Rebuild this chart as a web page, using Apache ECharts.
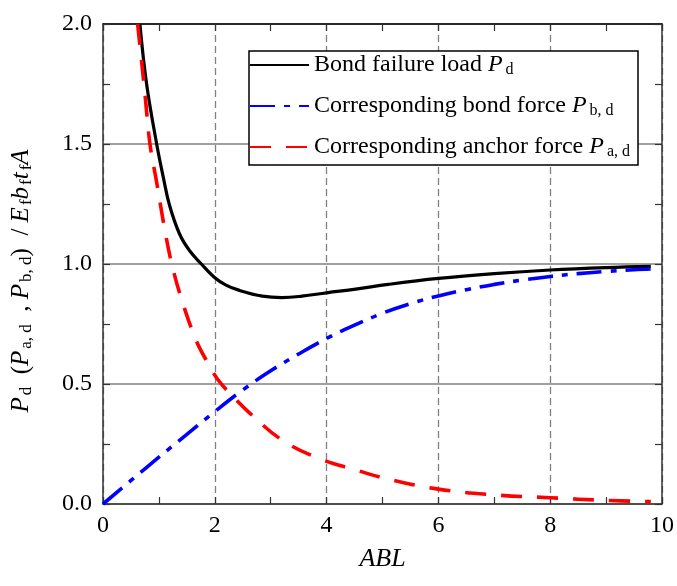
<!DOCTYPE html>
<html>
<head>
<meta charset="utf-8">
<script src="https://cdn.jsdelivr.net/npm/echarts@6/dist/echarts.min.js"></script>
<style>
html,body{margin:0;padding:0;background:#fff;}
#c{width:677px;height:586px;}
</style>
</head>
<body>
<div id="c"></div>
<script>
// Bond failure load Pd
var pdX = [0.66, 0.78, 0.96, 1.08, 1.19, 1.37, 1.55, 1.76, 1.99, 2.2, 2.44, 2.85, 3.2, 3.56, 4.0, 4.52, 5.1, 6.0, 7.0, 8.0, 9.0, 9.8];
var pdY = [2.0, 1.75, 1.5, 1.36, 1.245, 1.125, 1.055, 1.0, 0.945, 0.912, 0.89, 0.866, 0.86, 0.866, 0.88, 0.895, 0.915, 0.94, 0.96, 0.975, 0.985, 0.99];
// Corresponding bond force Pb,d
var pbX = [0, 0.5, 1.0, 1.5, 2.0, 2.5, 3.0, 3.5, 4.0, 4.5, 5.0, 5.5, 6.0, 6.5, 7.0, 7.5, 8.0, 8.5, 9.0, 9.5, 9.8];
var pbY = [0, 0.098, 0.195, 0.29, 0.385, 0.475, 0.555, 0.625, 0.69, 0.745, 0.795, 0.835, 0.867, 0.893, 0.915, 0.933, 0.948, 0.96, 0.969, 0.976, 0.979];
// Corresponding anchor force Pa,d
var paX = [0.62, 0.75, 0.84, 0.96, 1.10, 1.23, 1.41, 1.67, 1.87, 2.05, 2.3, 2.62, 3.2, 3.86, 4.52, 5.1, 6.0, 7.0, 8.0, 9.0, 9.8];
var paY = [2.0, 1.71, 1.5, 1.34, 1.15, 1.0, 0.85, 0.68, 0.59, 0.52, 0.454, 0.38, 0.267, 0.19, 0.142, 0.104, 0.062, 0.038, 0.026, 0.015, 0.01];

var seriesNames = ['Pd', 'Pbd', 'Pad'];
var legendLabels = {
  'Pd': '{n|Bond failure load }{i|P}{s|d}',
  'Pbd': '{n|Corresponding bond force }{i|P}{s|b, d}',
  'Pad': '{n|Corresponding anchor force }{i|P}{s|a, d}'
};
var xTicks = [0, 2, 4, 6, 8, 10];
var yTicks = [0, 0.5, 1.0, 1.5, 2.0];

function zip(xs, ys) { return xs.map(function (x, i) { return [x, ys[i]]; }); }

var FF = '"Liberation Serif", "Times New Roman", serif';
var rich = {
  n: { fontFamily: FF, fontSize: 24, color: '#000', lineHeight: 26 },
  i: { fontFamily: FF, fontSize: 24, fontStyle: 'italic', color: '#000', lineHeight: 26 },
  s: { fontFamily: FF, fontSize: 16, color: '#000', lineHeight: 8, verticalAlign: 'bottom', padding: [0, 0, 0, 3] }
};
var richY = {
  n: { fontFamily: FF, fontSize: 25, color: '#000', lineHeight: 28 },
  i: { fontFamily: FF, fontSize: 25, fontStyle: 'italic', color: '#000', lineHeight: 28 },
  s: { fontFamily: FF, fontSize: 17, color: '#000', lineHeight: 8, verticalAlign: 'bottom', padding: [0, 0, 0, 2] }
};

var axisLineStyle = { color: '#333', width: 1.5 };
var tickStyle = { color: '#333', width: 1.2 };

var chart = echarts.init(document.getElementById('c'), null, { renderer: 'canvas' });
chart.setOption({
  animation: false,
  backgroundColor: '#fff',
  grid: { left: 103, right: 12, top: 24, bottom: 82, containLabel: false },
  legend: {
    data: seriesNames,
    orient: 'vertical',
    left: 249, top: 51,
    itemWidth: 59, itemHeight: 12, itemGap: 16,
    padding: [2, 8, 5, 0],
    borderColor: '#000', borderWidth: 1.5,
    backgroundColor: '#fff',
    itemStyle: { opacity: 0 },
    formatter: function (name) { return legendLabels[name]; },
    textStyle: { fontFamily: FF, fontSize: 24, color: '#000', rich: rich }
  },
  xAxis: [{
    type: 'value', min: 0, max: 10, interval: 2,
    name: 'ABL', nameLocation: 'middle', nameGap: 42,
    nameTextStyle: { fontFamily: FF, fontSize: 26, fontStyle: 'italic', color: '#000' },
    axisLine: { show: true, onZero: false, lineStyle: axisLineStyle },
    axisTick: { show: true, inside: true, length: 7, lineStyle: tickStyle },
    minorTick: { show: true, splitNumber: 2, length: 7, lineStyle: tickStyle },
    axisLabel: { fontFamily: FF, fontSize: 24, color: '#000', margin: 10,
      formatter: function (v) { return xTicks.indexOf(v) >= 0 ? String(v) : ''; } },
    splitLine: { show: true, lineStyle: { color: '#808080', width: 1.3, type: [7, 4] } }
  }, {
    type: 'value', min: 0, max: 10, interval: 2, position: 'top',
    axisLine: { show: true, onZero: false, lineStyle: { color: '#000', width: 1.5 } },
    axisTick: { show: true, inside: true, length: 7, lineStyle: tickStyle },
    minorTick: { show: true, splitNumber: 2, length: 7, lineStyle: tickStyle },
    axisLabel: { show: false },
    splitLine: { show: false }
  }],
  yAxis: [{
    type: 'value', min: 0, max: 2, interval: 0.5,
    name: '{i|P}{s|d}{n|  (}{i|P}{s|a, d}{n|  , }{i|P}{s|b, d}{n|)  / }{i|E}{s|f}{i|b}{s|f}{i|t}{s|f}{i|A}',
    nameLocation: 'middle', nameRotate: 90, nameGap: 68,
    nameTextStyle: { fontFamily: FF, fontSize: 25, color: '#000', rich: richY, padding: [0, 34, 0, 0] },
    axisLine: { show: true, onZero: false, lineStyle: axisLineStyle },
    axisTick: { show: true, inside: true, length: 7, lineStyle: tickStyle },
    minorTick: { show: true, splitNumber: 2, length: 7, lineStyle: tickStyle },
    axisLabel: { fontFamily: FF, fontSize: 24, color: '#000', margin: 11,
      formatter: function (v) { return v.toFixed(1); } },
    splitLine: { show: true, lineStyle: { color: '#808080', width: 1.5, type: 'solid' } }
  }, {
    type: 'value', min: 0, max: 2, interval: 0.5, position: 'right',
    axisLine: { show: true, onZero: false, lineStyle: axisLineStyle },
    axisTick: { show: true, inside: true, length: 7, lineStyle: tickStyle },
    minorTick: { show: true, splitNumber: 2, length: 7, lineStyle: tickStyle },
    axisLabel: { show: false },
    splitLine: { show: false }
  }],
  series: [{
    name: 'Pd', type: 'line', data: zip(pdX, pdY),
    symbol: 'none', smooth: 0.4, clip: true,
    lineStyle: { color: '#000', width: 3.2, type: 'solid' },
    itemStyle: { color: '#000' }
  }, {
    name: 'Pbd', type: 'line', data: zip(pbX, pbY),
    symbol: 'none', smooth: 0.4, clip: true,
    lineStyle: { color: '#0000ff', width: 3.6, type: [25, 9, 6, 9] },
    itemStyle: { color: '#0000ff' }
  }, {
    name: 'Pad', type: 'line', data: zip(paX, paY),
    symbol: 'none', smooth: 0.4, clip: true,
    lineStyle: { color: '#ff0000', width: 3.6, type: [21, 15] },
    itemStyle: { color: '#ff0000' }
  }]
});
</script>
</body>
</html>
